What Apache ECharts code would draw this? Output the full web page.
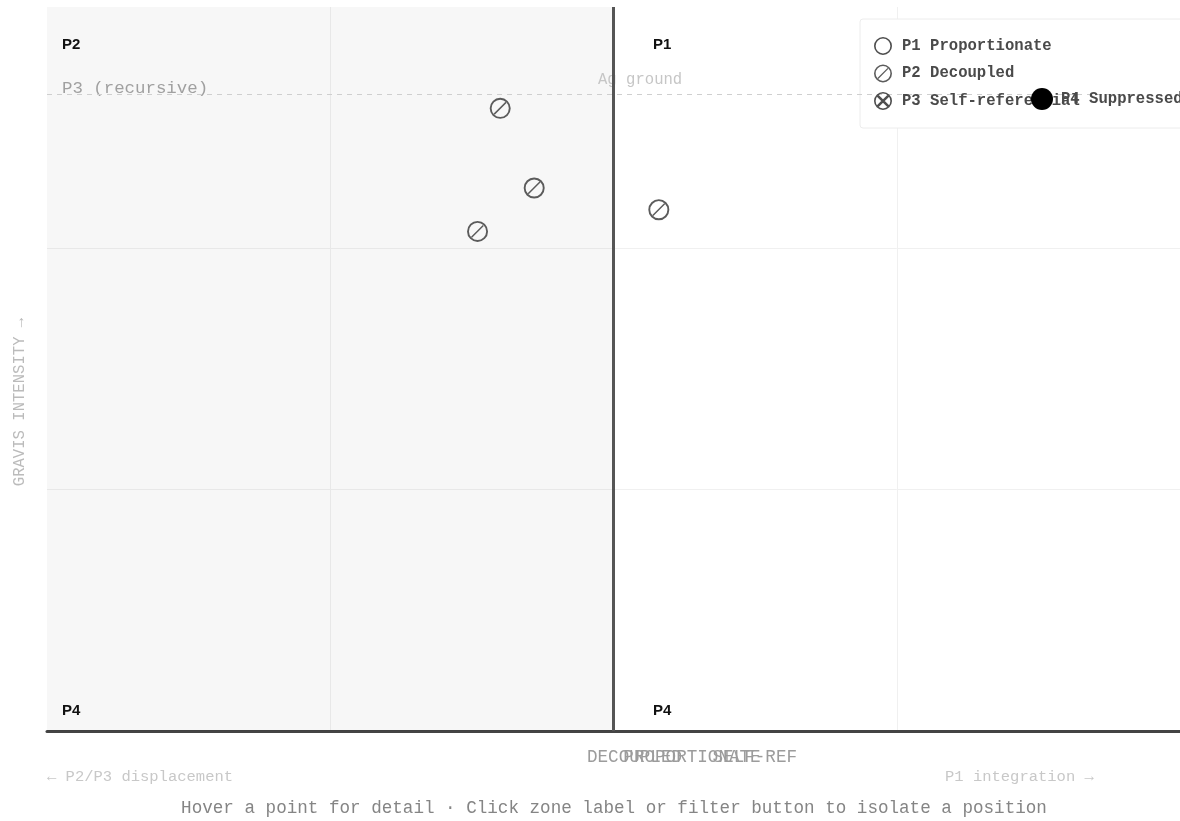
<!DOCTYPE html>
<html>
<head>
<meta charset="utf-8">
<script src="https://cdn.jsdelivr.net/npm/echarts@6/dist/echarts.min.js"></script>
<style>
  html, body { margin: 0; padding: 0; background: #fff; overflow: hidden; }
  #chart { width: 1180px; height: 821px; }
</style>
</head>
<body>
<div id="chart"></div>
<script>
// ---- data ----
const seriesNames = ['P1 Proportionate', 'P2 Decoupled', 'P3 Self-referential', 'P4 Suppressed'];
const p1Proportionate = [];
const p2Decoupled = [[-0.20, 2.58], [-0.14, 2.25], [-0.24, 2.07], [0.08, 2.16]];
const p3SelfReferential = [];
const p4Suppressed = [];
const groundLevel = 2.64;
const zoneLabels = ['P2', 'P1', 'P4', 'P4'];
const xAxisLabels = ['DECOUPLED', 'PROPORTIONATE', 'SELF-REF'];
const directionLabels = ['← P2/P3 displacement', 'P1 integration →'];
const yAxisTitle = 'GRAVIS INTENSITY →';
const recursiveLabel = 'P3 (recursive)';
const groundLabel = 'Ag ground';
const hintText = 'Hover a point for detail · Click zone label or filter button to isolate a position';

// ---- symbols ----
const RING = 'M50,0A50,50,0,1,1,50,100A50,50,0,1,1,50,0Z' +
             'M50,9A41,41,0,1,0,50,91A41,41,0,1,0,50,9Z';
const SLASH = 'M19,75L75,19L80,24L24,80Z';
const SYM_P1 = 'path://' + RING;
const SYM_P2 = 'path://' + RING + SLASH;
const SYM_P3 = 'path://' + RING + 'M16,74L74,16L84,26L26,84Z' + 'M26,16L84,74L74,84L16,26Z';
const SYM_P4 = 'circle';

const MONO = '"Liberation Mono", "DejaVu Sans Mono", monospace';
const SANS = '"Liberation Sans", Arial, sans-serif';

const chart = echarts.init(document.getElementById('chart'), null, { renderer: 'canvas' });

function txt(text, x, y, opts) {
  return {
    type: 'text', x: x, y: y, z: 5, silent: true,
    style: Object.assign({ text: text, verticalAlign: 'middle', align: 'left' }, opts)
  };
}

const option = {
  backgroundColor: '#ffffff',
  animation: false,
  grid: { left: 47, right: 0, top: 7, bottom: 90, containLabel: false },
  xAxis: {
    type: 'value', min: -1, max: 1, interval: 0.5,
    axisLabel: { show: false }, axisTick: { show: false },
    axisLine: { show: true, onZero: false, lineStyle: { color: '#444', width: 3 } },
    splitLine: { show: true, showMinLine: false, showMaxLine: false, lineStyle: { color: '#f0f0f0', width: 1 } }
  },
  yAxis: {
    type: 'value', min: 0, max: 3, interval: 1,
    axisLabel: { show: false }, axisTick: { show: false },
    axisLine: { show: false },
    splitLine: { show: true, showMinLine: false, showMaxLine: false, lineStyle: { color: '#f0f0f0', width: 1 } }
  },
  legend: [
    {
      data: seriesNames.slice(0, 3),
      orient: 'vertical', left: 869, top: 32,
      itemWidth: 28, itemHeight: 18, itemGap: 9.5,
      selectedMode: false, z: 6,
      textStyle: { fontFamily: MONO, fontSize: 15.6, fontWeight: 'bold', color: '#4a4a4a' }
    },
    {
      data: [{ name: seriesNames[3], itemStyle: { color: '#000' } }],
      orient: 'vertical', left: 1026, top: 83,
      itemWidth: 28, itemHeight: 22,
      selectedMode: false, z: 6,
      textStyle: { fontFamily: MONO, fontSize: 15.6, fontWeight: 'bold', color: '#4a4a4a' }
    }
  ],
  series: [
    {
      name: '__zones', type: 'line', data: [], z: 1, silent: true,
      markArea: {
        silent: true,
        itemStyle: { color: 'rgba(0,0,0,0.032)' },
        data: [[{ coord: [-1, 0] }, { coord: [0, 3] }]]
      },
      markLine: {
        silent: true, symbol: ['none', 'none'],
        label: { show: false },
        data: [
          { xAxis: 0, lineStyle: { color: '#555', width: 3, type: 'solid' } },
          { yAxis: groundLevel, lineStyle: { color: '#cfcfcf', width: 1, type: [5, 5] } }
        ]
      }
    },
    { name: seriesNames[0], type: 'scatter', data: p1Proportionate, symbol: SYM_P1, symbolSize: 20, z: 3, itemStyle: { color: '#222' } },
    { name: seriesNames[1], type: 'scatter', data: p2Decoupled, symbol: SYM_P2, symbolSize: 21, z: 3, itemStyle: { color: '#333' } },
    { name: seriesNames[2], type: 'scatter', data: p3SelfReferential, symbol: SYM_P3, symbolSize: 20, z: 3, itemStyle: { color: '#222' } },
    { name: seriesNames[3], type: 'scatter', data: p4Suppressed, symbol: SYM_P4, symbolSize: 20, z: 3, itemStyle: { color: '#000', opacity: 1 } }
  ],
  graphic: [
    { type: 'rect', z: 4, silent: true, shape: { x: 860, y: 19, width: 340, height: 109, r: 3 },
      style: { fill: '#ffffff', stroke: '#ececec', lineWidth: 1 } },
    txt(zoneLabels[0], 62, 45, { font: 'bold 15px ' + SANS, fill: '#111' }),
    txt(zoneLabels[1], 653, 45, { font: 'bold 15px ' + SANS, fill: '#111' }),
    txt(zoneLabels[2], 62, 711, { font: 'bold 15px ' + SANS, fill: '#111' }),
    txt(zoneLabels[3], 653, 711, { font: 'bold 15px ' + SANS, fill: '#111' }),
    txt(recursiveLabel, 62, 88, { font: '17.4px ' + MONO, fill: '#a0a0a0' }),
    txt(groundLabel, 598, 80, { font: '15.6px ' + MONO, fill: '#c6c6c6' }),
    txt(xAxisLabels[0], 587, 757, { font: '17.6px ' + MONO, fill: '#9c9c9c' }),
    txt(xAxisLabels[1], 692, 757, { font: '17.6px ' + MONO, fill: '#9c9c9c', align: 'center' }),
    txt(xAxisLabels[2], 797, 757, { font: '17.6px ' + MONO, fill: '#9c9c9c', align: 'right' }),
    txt(directionLabels[0], 47, 777, { font: '15.5px ' + MONO, fill: '#c8c8c8' }),
    txt(directionLabels[1], 945, 777, { font: '15.5px ' + MONO, fill: '#c8c8c8' }),
    txt(hintText, 614, 808, { font: '17.6px ' + MONO, fill: '#858585', align: 'center' }),
    { type: 'text', x: 20, y: 402, rotation: Math.PI / 2, z: 5, silent: true,
      style: { text: yAxisTitle, font: '15.6px ' + MONO, fill: '#bbbbbb', align: 'center', verticalAlign: 'middle' } }
  ]
};
chart.setOption(option);
</script>
</body>
</html>
